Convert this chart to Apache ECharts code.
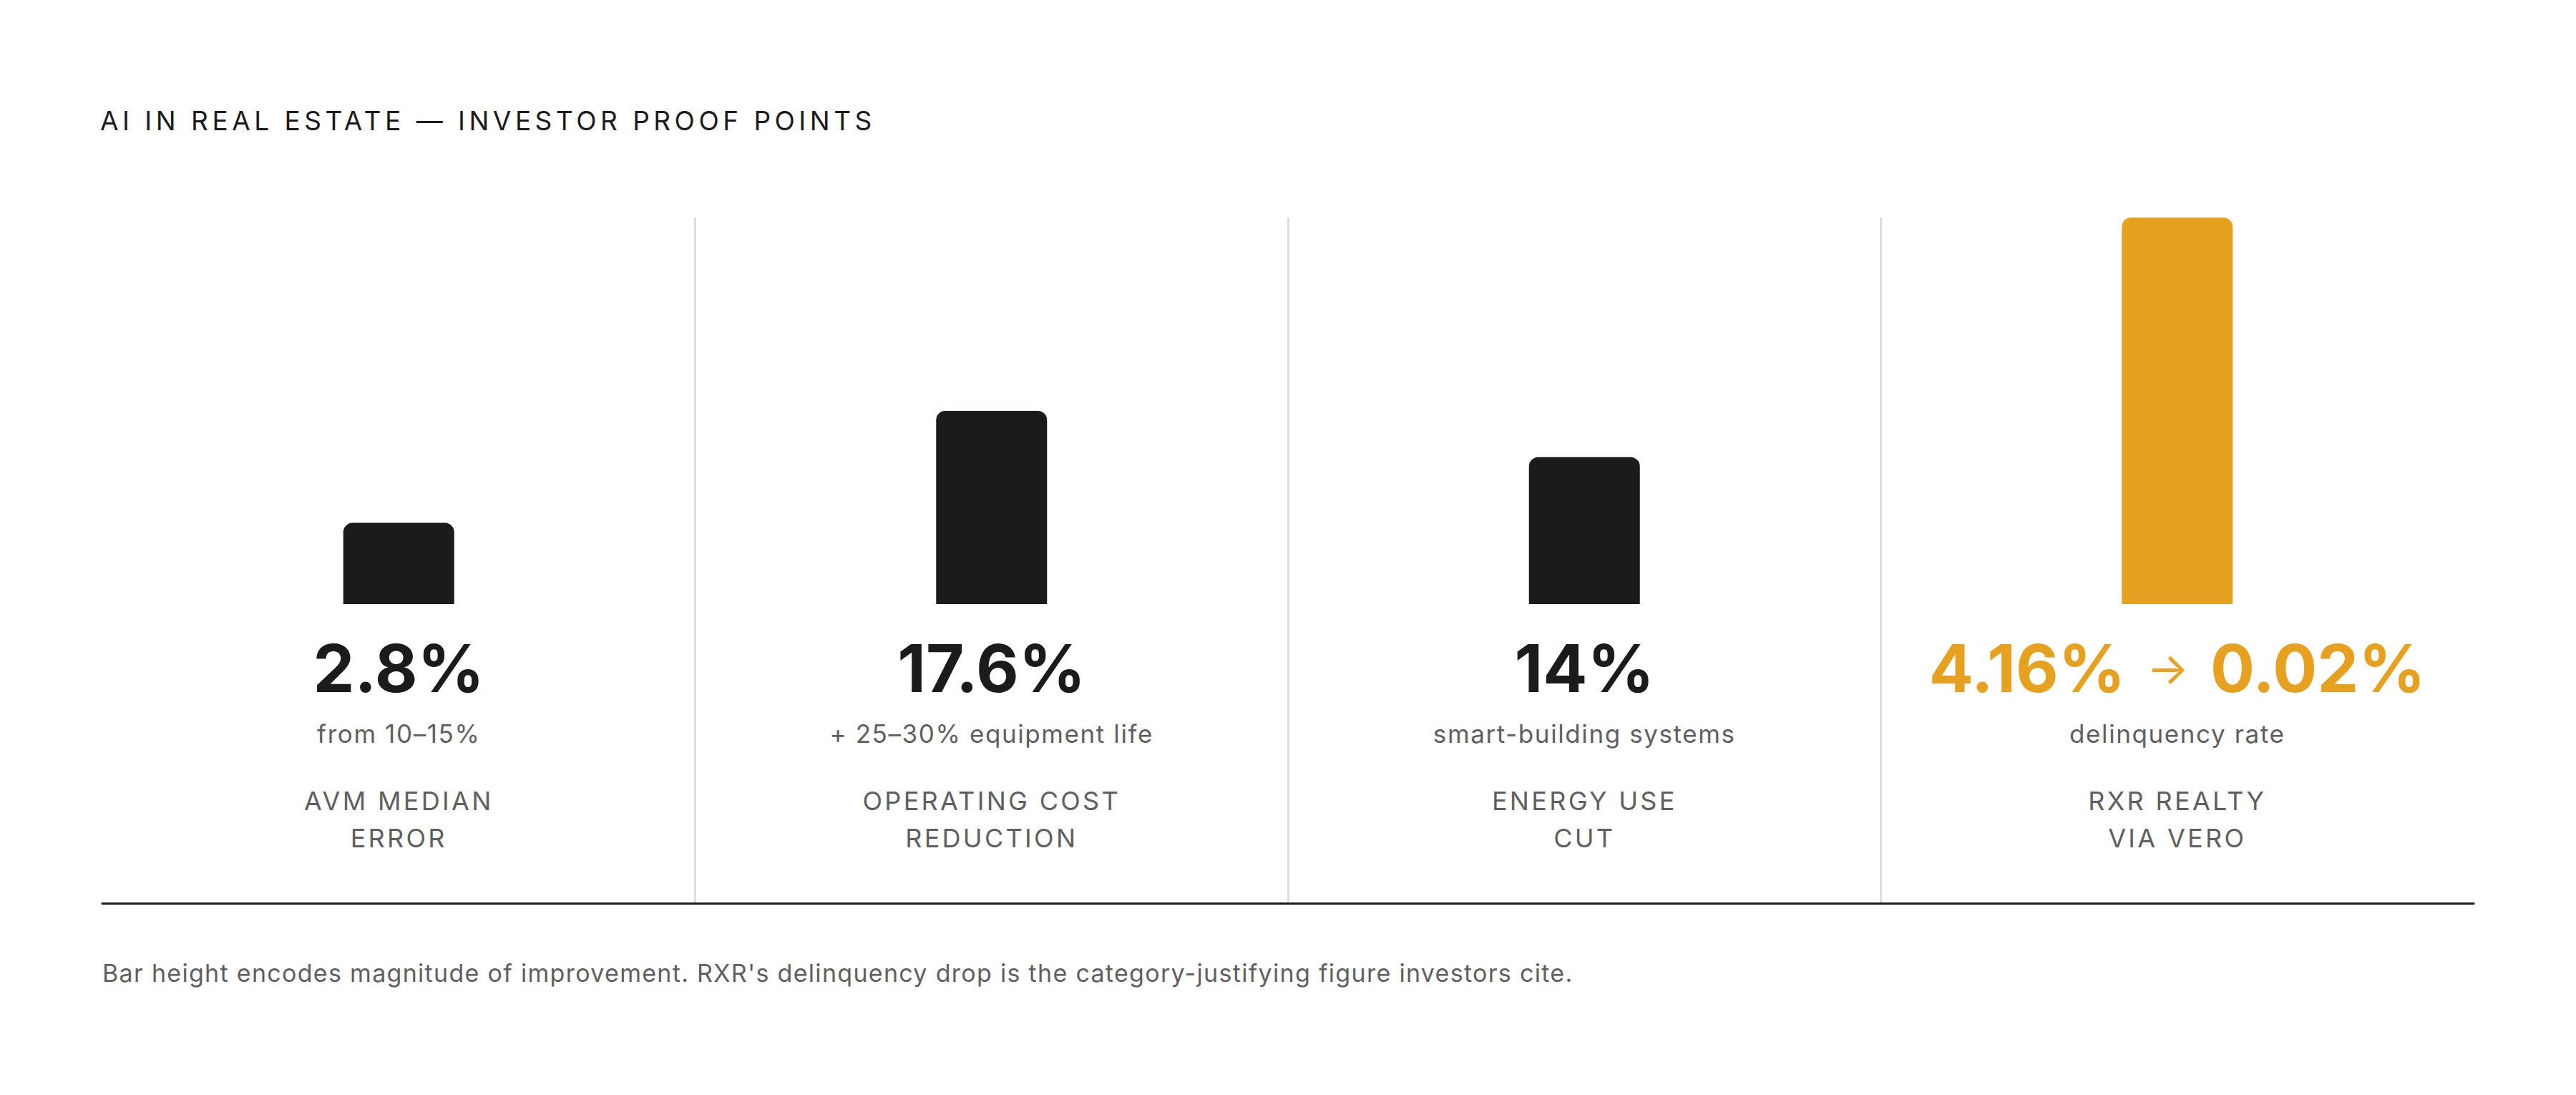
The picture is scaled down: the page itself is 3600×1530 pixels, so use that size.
<!DOCTYPE html>
<html>
<head>
<meta charset="utf-8">
<title>AI in Real Estate — Investor Proof Points</title>
<script src="https://cdn.jsdelivr.net/npm/echarts@6/dist/echarts.min.js"></script>
<style>
    html, body { margin: 0; padding: 0; background: #fff; }
    #main { width: 3600px; height: 1530px; }
    /* tracking per text size (svg renderer) */
    #main text[style*="37px"] { letter-spacing: 5.5px; }  /* title */
    #main text[style*="36px"] { letter-spacing: 3.3px; }  /* category names */
    #main text[style*="35px"] { letter-spacing: 1.6px; }  /* notes */
    #main text[style*="34px"] { letter-spacing: 1.3px; }  /* footnote */
</style>
</head>
<body>
<div id="main"></div>
<script>
(function () {
    'use strict';

    // 数据
    var categories = ['AVM MEDIAN\nERROR', 'OPERATING COST\nREDUCTION', 'ENERGY USE\nCUT', 'RXR REALTY\nVIA VERO'];
    var headlines = ['2.8%', '17.6%', '14%', '4.16% → 0.02%'];
    var notes = ['from 10–15%', '+ 25–30% equipment life', 'smart-building systems', 'delinquency rate'];
    // bar height = magnitude of improvement (relative, RXR = 100)
    var magnitude = [21, 50, 38, 100];
    var highlight = 3;

    var INK = '#1b1b1b';
    var GOLD = '#e6a121';
    var GREY = '#5f5f5f';
    var FONT = 'Inter';

    var myChart = echarts.init(document.getElementById('main'), null, { renderer: 'svg' });

    var barData = magnitude.map(function (v, i) {
        return {
            value: v,
            itemStyle: { color: i === highlight ? GOLD : INK }
        };
    });

    // big number line; a thin arrow gets its own fragment
    function headline(idx) {
        var key = idx === highlight ? 'vh' : 'v';
        var parts = headlines[idx].split(' → ');
        if (parts.length === 1) {
            return '{' + key + '|' + parts[0] + '}';
        }
        return '{' + key + '|' + parts[0] + ' }{a|→}{' + key + '| ' + parts[1] + '}';
    }

    var option = {
        backgroundColor: '#ffffff',
        animation: false,
        title: [{
            text: 'AI IN REAL ESTATE — INVESTOR PROOF POINTS',
            left: 140,
            top: 148,
            padding: 0,
            textStyle: {
                fontFamily: FONT,
                fontSize: 37,
                fontWeight: 400,
                lineHeight: 40,
                color: INK
            }
        }, {
            text: "Bar height encodes magnitude of improvement. RXR's delinquency drop is the category-justifying figure investors cite.",
            left: 143,
            top: 1339,
            padding: 0,
            textStyle: {
                fontFamily: FONT,
                fontSize: 34,
                fontWeight: 400,
                lineHeight: 40,
                color: GREY
            }
        }],
        grid: [
            // bars
            { left: 143, right: 143, top: 304, bottom: 686 },
            // column dividers + baseline
            { left: 143, right: 143, top: 304, bottom: 268 }
        ],
        xAxis: [{
            type: 'category',
            gridIndex: 0,
            data: categories,
            axisLine: { show: false },
            axisTick: { show: false },
            axisLabel: {
                interval: 0,
                margin: 29,
                formatter: function (value, idx) {
                    return headline(idx) + '\n' +
                        '{s|' + notes[idx] + '}\n' +
                        '{g| }\n' +
                        '{c|' + value + '}';
                },
                rich: {
                    v: { fontFamily: FONT, fontSize: 92, fontWeight: 700, color: INK, lineHeight: 120 },
                    vh: { fontFamily: FONT, fontSize: 92, fontWeight: 700, color: GOLD, lineHeight: 120 },
                    a: { fontFamily: FONT, fontSize: 62, fontWeight: 400, color: GOLD, lineHeight: 120, padding: [0, 8, 0, 8] },
                    s: { fontFamily: FONT, fontSize: 35, fontWeight: 400, color: GREY, lineHeight: 64 },
                    g: { fontSize: 10, lineHeight: 36 },
                    c: { fontFamily: FONT, fontSize: 36, fontWeight: 400, color: GREY, lineHeight: 52 }
                }
            }
        }, {
            type: 'category',
            gridIndex: 1,
            data: categories,
            boundaryGap: true,
            axisLine: { show: true, lineStyle: { color: '#1a1a1a', width: 3 } },
            axisTick: { show: false },
            axisLabel: { show: false },
            splitLine: {
                show: true,
                interval: 0,
                showMinLine: false,
                showMaxLine: false,
                lineStyle: { color: '#dcdcdc', width: 3 }
            }
        }],
        yAxis: [{
            type: 'value',
            gridIndex: 0,
            min: 0,
            max: 100,
            show: false
        }, {
            type: 'value',
            gridIndex: 1,
            min: 0,
            max: 1,
            show: false
        }],
        series: [{
            name: 'magnitude',
            type: 'bar',
            xAxisIndex: 0,
            yAxisIndex: 0,
            barWidth: 155,
            itemStyle: { borderRadius: [13, 13, 0, 0] },
            data: barData
        }]
    };

    myChart.setOption(option);
    window.addEventListener('resize', function () {
        myChart.resize();
    });
})();
</script>
</body>
</html>
